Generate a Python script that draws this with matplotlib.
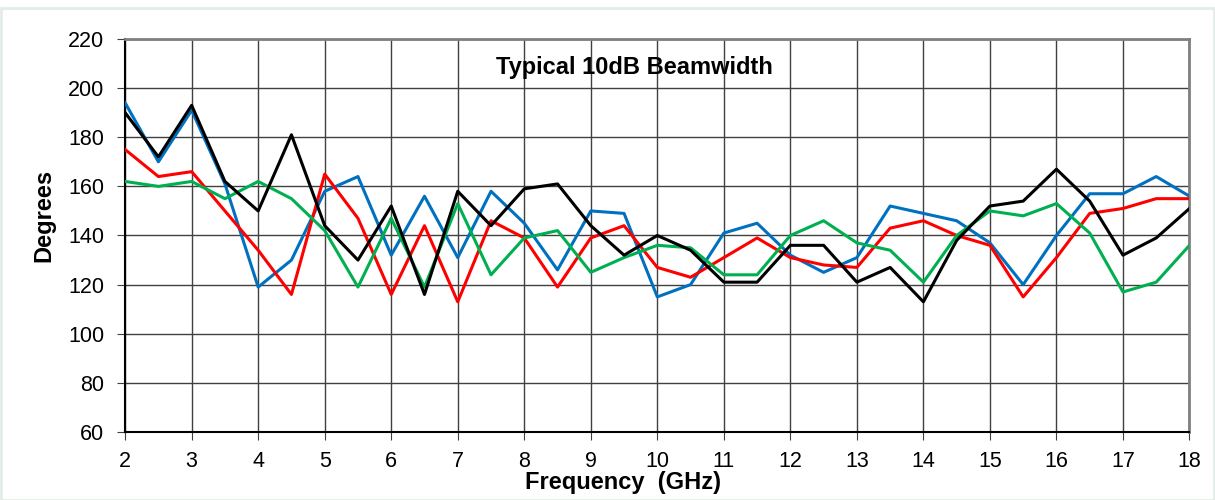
import matplotlib
matplotlib.use("Agg")
import matplotlib.pyplot as plt
from matplotlib.patches import Rectangle
import numpy as np

freq = [2, 2.5, 3, 3.5, 4, 4.5, 5, 5.5, 6, 6.5, 7, 7.5, 8, 8.5, 9, 9.5, 10,
        10.5, 11, 11.5, 12, 12.5, 13, 13.5, 14, 14.5, 15, 15.5, 16, 16.5, 17, 17.5, 18]
blue = [194, 170, 191, 161, 119, 130, 158, 164, 132, 156, 131, 158, 145, 126, 150, 149, 115,
        120, 141, 145, 132, 125, 131, 152, 149, 146, 137, 120, 140, 157, 157, 164, 156]
red = [175, 164, 166, 150, 134, 116, 165, 147, 116, 144, 113, 146, 139, 119, 139, 144, 127,
       123, 131, 139, 131, 128, 127, 143, 146, 140, 136, 115, 131, 149, 151, 155, 155]
green = [162, 160, 162, 155, 162, 155, 142, 119, 147, 119, 153, 124, 139, 142, 125, 131, 136,
         135, 124, 124, 140, 146, 137, 134, 121, 140, 150, 148, 153, 141, 117, 121, 136]
black = [190, 172, 193, 162, 150, 181, 144, 130, 152, 116, 158, 144, 159, 161, 144, 132, 140,
         134, 121, 121, 136, 136, 121, 127, 113, 138, 152, 154, 167, 154, 132, 139, 151]

xticks = list(range(2, 19))
yticks = list(range(60, 221, 20))

plt.rcParams['font.family'] = ['Liberation Sans', 'DejaVu Sans']

fig = plt.figure(figsize=(12.15, 5.0), dpi=100)
fig.patches.append(Rectangle((0.001, 0.0), 0.998, 0.985, transform=fig.transFigure,
                             fill=False, edgecolor='#e3ece7', linewidth=2))
ax = fig.add_axes([0.103, 0.136, 0.876, 0.786])

for ys, c in [(blue, '#0070C0'), (red, '#FF0000'), (green, '#00B050'), (black, '#000000')]:
    ax.plot(freq, ys, color=c, linewidth=2.2, zorder=3)

ax.set_xlim(2, 18)
ax.set_ylim(60, 220)
ax.set_xticks(xticks)
ax.set_yticks(yticks)
ax.grid(True, color='#404040', linewidth=1.0, zorder=0)
ax.tick_params(axis='both', labelsize=15.5, direction='out', length=6, color='#404040')
ax.tick_params(axis='x', pad=8)
ax.tick_params(axis='y', pad=9)

for side in ['top', 'right']:
    ax.spines[side].set_color('#808080')
    ax.spines[side].set_linewidth(2)
ax.spines['left'].set_color('black')
ax.spines['bottom'].set_color('black')
ax.spines['left'].set_linewidth(1.5)
ax.spines['bottom'].set_linewidth(1.5)

ax.set_xlabel('Frequency  (GHz)', fontsize=17, fontweight='bold', labelpad=0)
ax.xaxis.set_label_coords(0.468, -0.10)
ax.set_ylabel('Degrees', fontsize=17, fontweight='bold')
ax.yaxis.set_label_coords(-0.066, 0.55)
ax.text(9.65, 208.2, 'Typical 10dB Beamwidth', fontsize=17, fontweight='bold',
        ha='center', va='center', zorder=4)

fig.savefig('out.png', dpi=100)
